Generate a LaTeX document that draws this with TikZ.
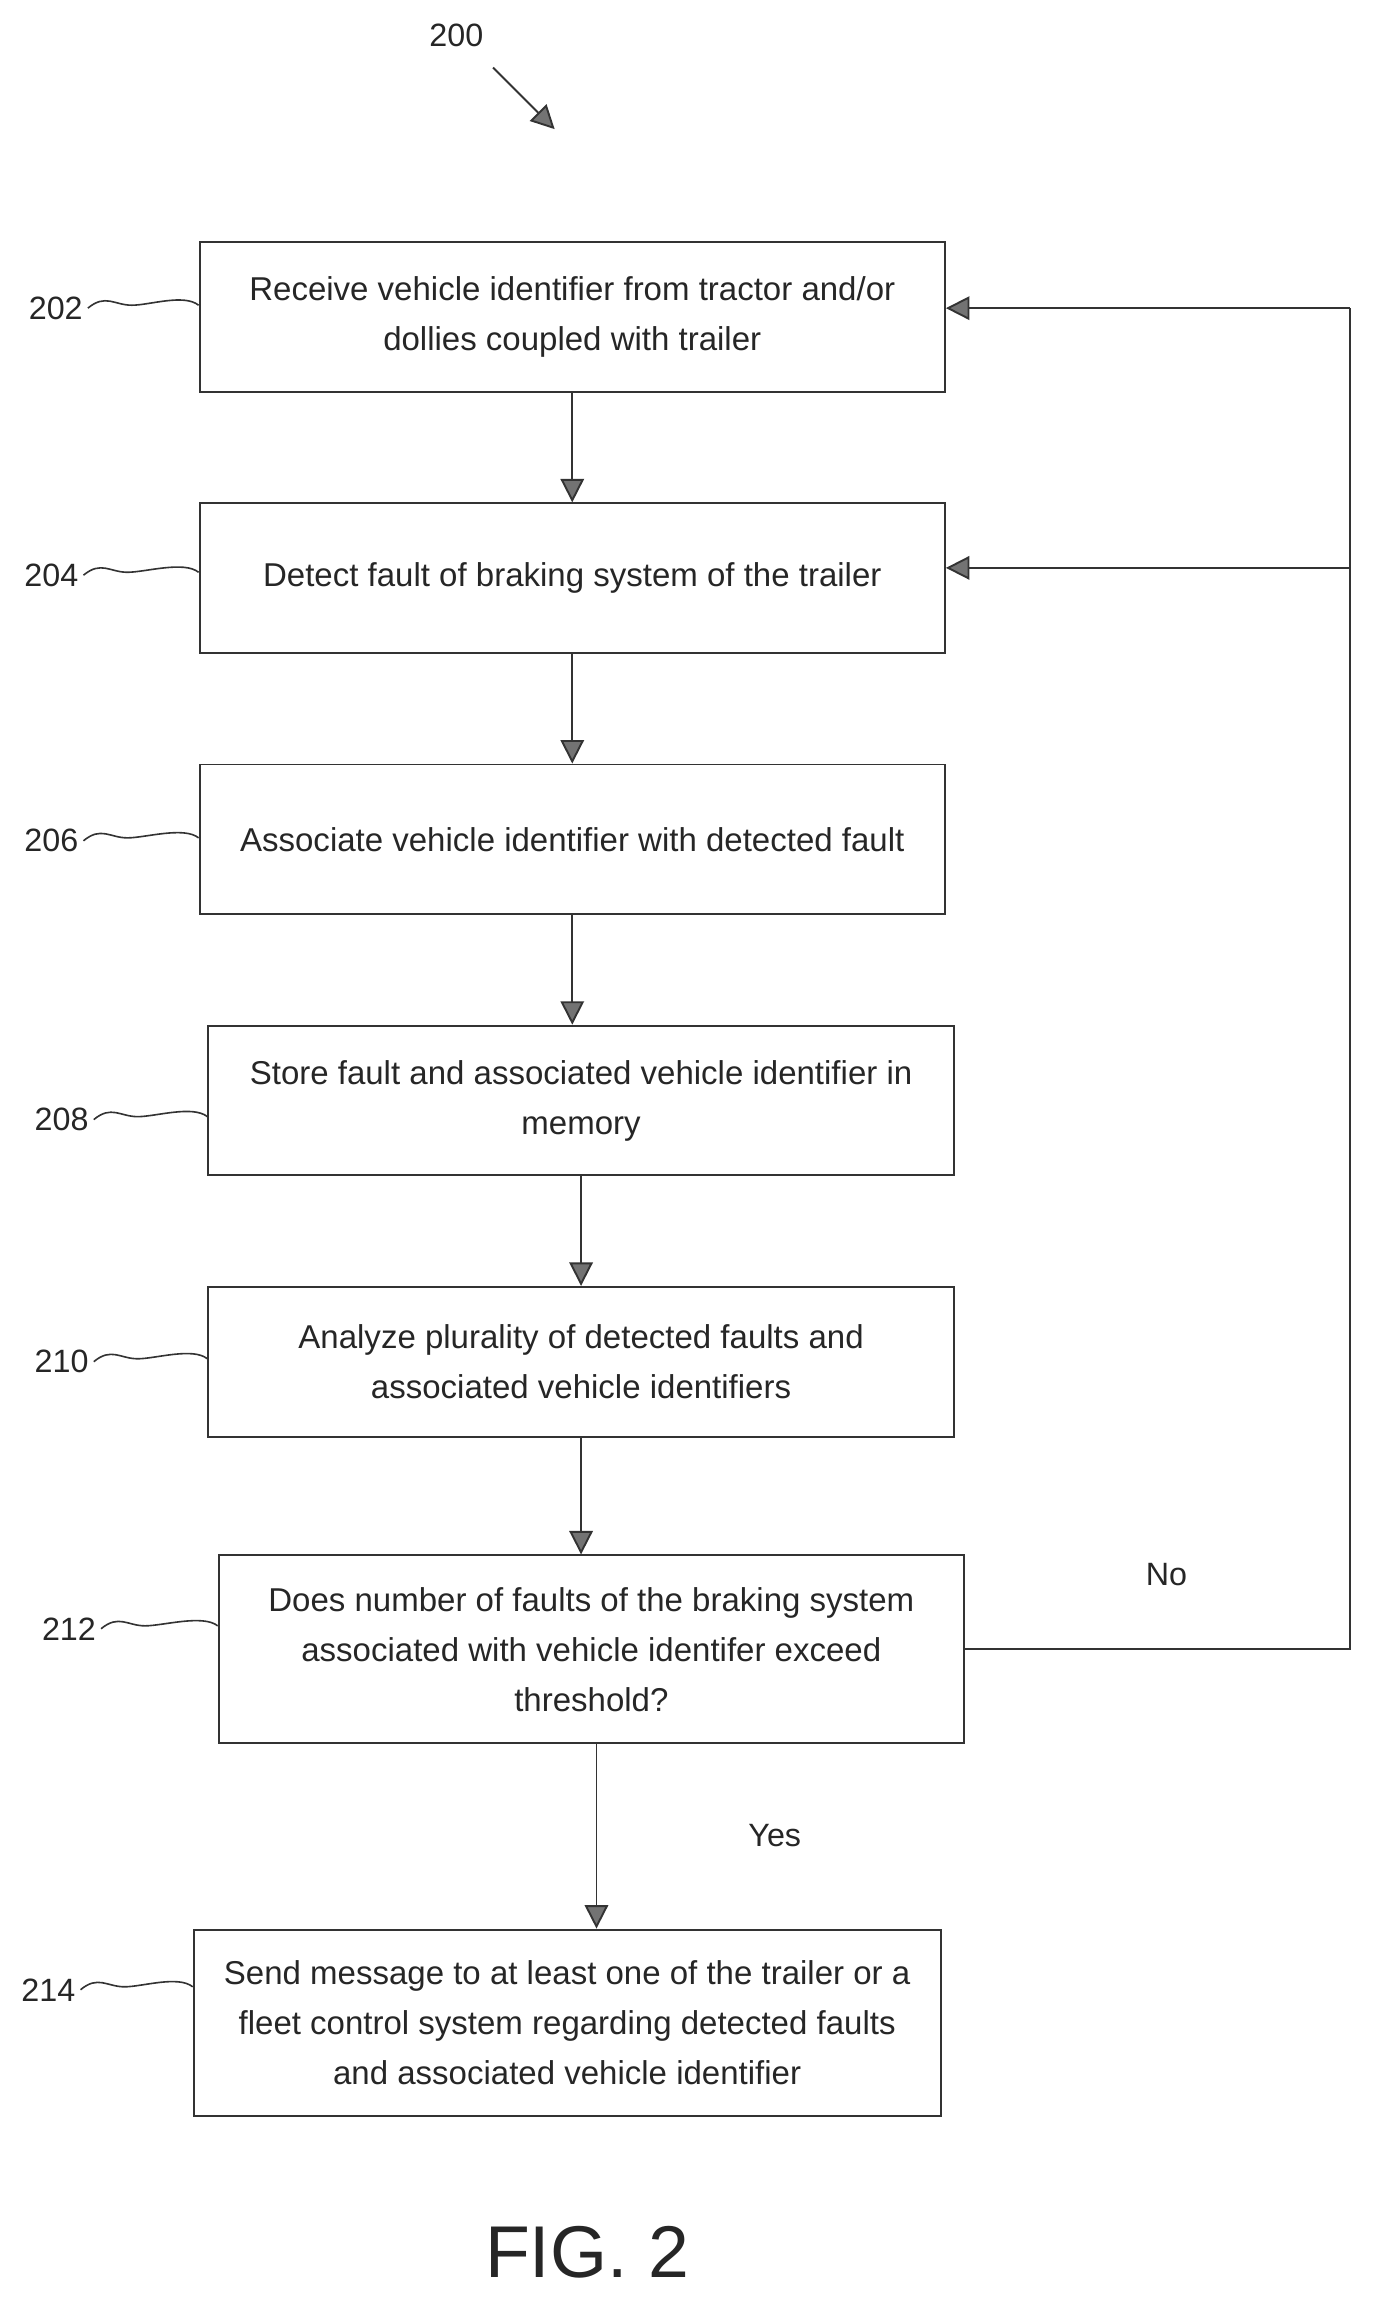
\documentclass[tikz,border=0pt]{standalone}
\usepackage{fontspec}
\setmainfont{Liberation Sans}
\usetikzlibrary{arrows.meta}
\begin{document}
\begin{tikzpicture}[x=1pt,y=-1pt,
  box/.style={draw=black!80,line width=1.3pt,minimum width=508pt,align=center,font=\fontsize{22.5}{34}\selectfont,text=black!85},
  arr/.style={draw=black!80,line width=1.3pt,-{Triangle[length=16pt,width=16pt,fill=black!55]}},
  lab/.style={font=\fontsize{22}{24}\selectfont,text=black!85},
  sq/.style={draw=black!80,line width=1.1pt}]
\useasboundingbox (0,0) rectangle (940,1577);
\node[box,minimum height=102pt] (b202) at (390,216) {Receive vehicle identifier from tractor and/or\\dollies coupled with trailer};
\node[box,minimum height=102pt] (b204) at (390,394) {Detect fault of braking system of the trailer};
\node[box,minimum height=102pt] (b206) at (390,572) {Associate vehicle identifier with detected fault};
\node[box,minimum height=102pt] (b208) at (396,750) {Store fault and associated vehicle identifier in\\memory};
\node[box,minimum height=102pt] (b210) at (396,928) {Analyze plurality of detected faults and\\associated vehicle identifiers};
\node[box,minimum height=128pt] (b212) at (403,1124) {Does number of faults of the braking system\\associated with vehicle identifer exceed\\threshold?};
\node[box,minimum height=127pt,minimum width=509pt] (b214) at (386.5,1378.5) {Send message to at least one of the trailer or a\\fleet control system regarding detected faults\\and associated vehicle identifier};
\draw[arr] (b202) -- (b204);
\draw[arr] (b204) -- (b206);
\draw[arr] (b206.south) -- (b206.south|-b208.north);
\draw[arr] (b208) -- (b210);
\draw[arr] (b210.south) -- (b210.south|-b212.north);
\draw[arr] (b212.south-|b214.north) ++(20,0) coordinate (ys) -- (ys|-b214.north);
\coordinate (rt) at (920,1124);
\coordinate (rtop) at (920,210);
\coordinate (rmid) at (920,387);
\draw[draw=black!80,line width=1.3pt] (b212.east) -- (rt) -- (rtop);
\draw[arr] (rtop) -- (b202.east|-rtop);
\draw[arr] (rmid) -- (b204.east|-rmid);
\node[lab] (no) at (795,1073) {No};
\node[lab] (yes) at (528,1251) {Yes};
\foreach \n/\x/\y/\bx in {202/38/210/b202,204/35/392/b204,206/35/573/b206,208/42/763/b208,210/42/928/b210,212/47/1110/b212,214/33/1356/b214}{
  \node[lab] (l\n) at (\x,\y) {\n};
  \draw[sq] (l\n.east) .. controls +(12,-10) and +(-12,0) .. ++(30,-2) coordinate (m\n) .. controls +(12,0) and +(-10,-8) .. (\bx.west|-m\n) ;
}
\node[lab] (l200) at (311,24) {200};
\coordinate (a0) at (336,46);
\draw[arr] (a0) -- (378,88);
\node[font=\fontsize{50}{54}\selectfont,text=black!85] (fig) at (400,1535) {FIG. 2};
\end{tikzpicture}
\end{document}
